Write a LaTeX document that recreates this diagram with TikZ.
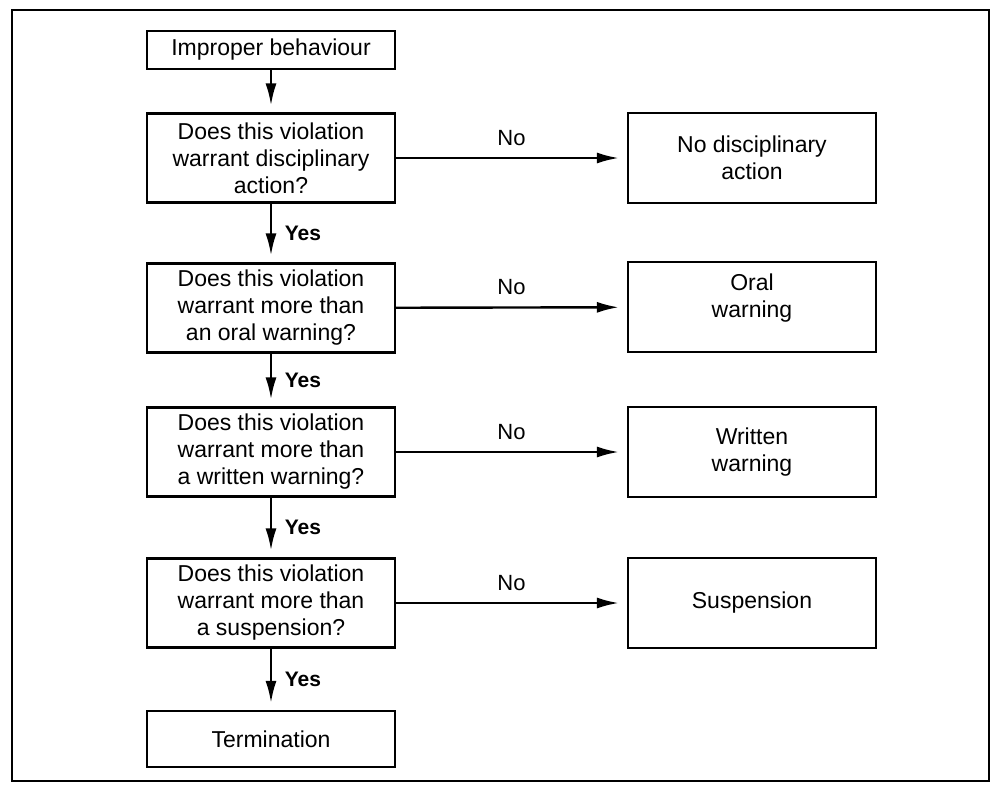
\documentclass[tikz,border=0pt]{standalone}
\usepackage{fontspec}
\setmainfont{Liberation Sans}
\usetikzlibrary{arrows.meta}
\begin{document}
\begin{tikzpicture}[x=0.5pt,y=-0.5pt,
  box/.style={draw, line width=1.1pt, minimum width=124pt, align=center,
    font=\fontsize{11.5}{13.5}\selectfont, inner sep=2pt},
  qbox/.style={box, minimum height=44.5pt},
  rbox/.style={box, minimum height=45pt},
  flow/.style={line width=1.2pt, -{Latex[length=11pt,width=5.5pt]}, shorten >=4pt},
  yeslbl/.style={font=\bfseries\fontsize{10.5}{12}\selectfont, right=3pt},
  nolbl/.style={font=\fontsize{11}{13}\selectfont, yshift=10pt}]
\useasboundingbox (0,0) rectangle (993,784);
% outer frame
\draw[line width=1pt] (12,10) rectangle (989,781);

% decision column
\node[box, minimum height=19pt] (imp) at (271,50) {Improper behaviour};
\node[qbox] (q1) at (271,158) {Does this violation\\warrant disciplinary\\action?};
\node[qbox] (q2) at (271,308) {Does this violation\\warrant more than\\an oral warning?};
\node[qbox] (q3) at (271,452) {Does this violation\\warrant more than\\a written warning?};
\node[qbox] (q4) at (271,603) {Does this violation\\warrant more than\\a suspension?};
\node[box, minimum height=28pt] (term) at (271,739) {Termination};

% outcome column
\node[rbox] (r1) at (752,158) {No disciplinary\\action};
\node[rbox] (r2) at (752,307) {Oral\\warning\\[-6pt]\strut};
\node[rbox] (r3) at (752,452) {Written\\warning};
\node[rbox] (r4) at (752,603) {Suspension};

% yes path
\draw[flow, shorten >=3.5pt] (imp) -- (q1);
\draw[flow, shorten >=3.5pt] (q1) -- node[yeslbl] {Yes} (q2);
\draw[flow, shorten >=3.5pt] (q2) -- node[yeslbl] {Yes} (q3);
\draw[flow, shorten >=3.5pt] (q3) -- node[yeslbl] {Yes} (q4);
\draw[flow, shorten >=3.5pt] (q4) -- node[yeslbl] {Yes} (term);

% no branches
\draw[flow] (q1) -- node[nolbl] {No} (r1);
\draw[flow] (q2) -- node[nolbl] {No} (r2);
\draw[flow] (q3) -- node[nolbl] {No} (r3);
\draw[flow] (q4) -- node[nolbl] {No} (r4);
\end{tikzpicture}
\end{document}
